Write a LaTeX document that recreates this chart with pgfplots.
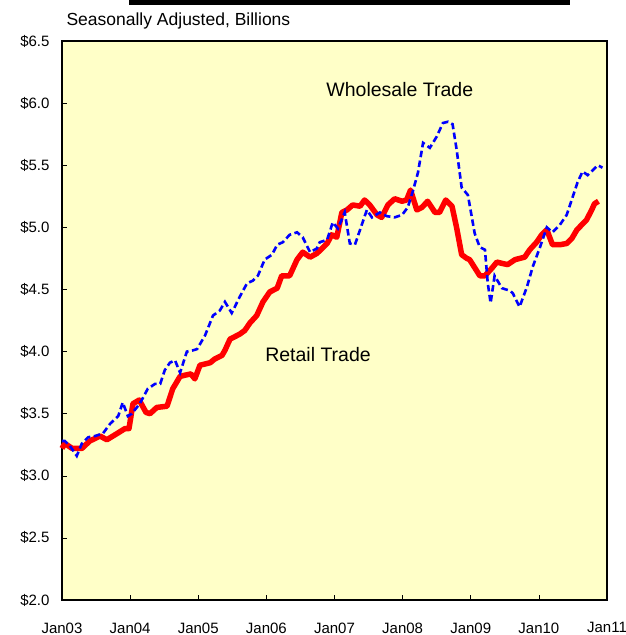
\documentclass[border=0pt]{standalone}
\usepackage{pgfplots}
\pgfplotsset{compat=1.18}
\usepackage{fontspec}
\setmainfont{Liberation Sans}
\definecolor{bgyellow}{RGB}{255,255,200}
\begin{document}
\begin{tikzpicture}
\useasboundingbox (-62pt,-35pt) rectangle (564pt,600pt);
\begin{axis}[
  scale only axis, width=545pt, height=559pt,
  xmin=0, xmax=96, ymin=2, ymax=6.5,
  axis background/.style={fill=bgyellow},
  axis line style={line width=1.6pt},
  clip=false,
  xtick={0,12,24,36,48,60,72,84,96},
  xticklabels={Jan03,Jan04,Jan05,Jan06,Jan07,Jan08,Jan09,Jan10,Jan11},
  ytick={2,2.5,3,3.5,4,4.5,5,5.5,6,6.5},
  yticklabels={\$2.0,\$2.5,\$3.0,\$3.5,\$4.0,\$4.5,\$5.0,\$5.5,\$6.0,\$6.5},
  /pgf/number format/assume math mode=true,
  tick style={black, line width=0.5pt},
  major tick length=5pt,
  tick align=inside,
  xtick pos=bottom, ytick pos=left,
  ticklabel style={font=\fontsize{15}{18}\selectfont},
  xticklabel style={yshift=-19pt},
  yticklabel style={xshift=-9pt},
]
% Retail Trade
\addplot[red, line width=5.5pt, line join=round] coordinates {
(0,3.22) (0.5,3.26) (1.8,3.22) (3.5,3.22) (4.9,3.28) (6.7,3.32) (7.9,3.29) (9.7,3.34) (11.1,3.38) (11.8,3.38)
(12.5,3.58) (13.6,3.61) (14.8,3.51) (15.5,3.50) (16.7,3.55) (18.5,3.56) (19.5,3.70) (20.8,3.80) (21.7,3.81) (22.7,3.82) (23.4,3.78)
(24.3,3.89) (26.1,3.91) (26.9,3.94) (28.2,3.97) (28.7,4.01) (29.6,4.10) (31.3,4.14) (32.2,4.17) (33.1,4.23) (34.3,4.29) (35.4,4.40)
(36.6,4.48) (37.9,4.51) (38.7,4.61) (40.1,4.61) (40.7,4.67) (41.4,4.74) (42.4,4.80) (43.7,4.76) (44.9,4.79) (45.8,4.83) (46.7,4.87) (47.5,4.94)
(48.4,4.92) (49.3,5.12) (50.2,5.14) (51.2,5.18) (52.5,5.17) (53.3,5.22) (54.2,5.18) (55.5,5.10) (56.3,5.08) (57.4,5.18) (58.6,5.23) (59.9,5.21)
(60.7,5.22) (61.4,5.30) (62.5,5.14) (63.4,5.16) (64.4,5.21) (65.7,5.12) (66.5,5.12) (67.6,5.22) (68.7,5.17) (69.5,5.00) (70.4,4.78) (71.3,4.75)
(71.8,4.74) (73.6,4.61) (74.5,4.61) (75.7,4.67) (76.6,4.72) (77.5,4.71) (78.5,4.70) (79.8,4.74) (81.5,4.76) (82.4,4.82) (83.6,4.88)
(84.5,4.94) (85.4,4.98) (86.4,4.86) (87.7,4.86) (88.9,4.87) (89.8,4.91) (90.7,4.98) (92.4,5.06) (93.3,5.14) (93.8,5.19) (94.5,5.21)
};
% Wholesale Trade
\addplot[blue, line width=2.6pt, dash pattern=on 6.5pt off 3.5pt] coordinates {
(0,3.28) (0.5,3.28) (1.4,3.24) (2.6,3.16) (3.5,3.26) (4.6,3.31) (5.8,3.32) (7.2,3.34) (8.5,3.42) (9.9,3.48) (10.7,3.59) (11.6,3.48)
(12.3,3.50) (13.7,3.58) (15.1,3.70) (16.4,3.74) (17.3,3.74) (18.1,3.85) (19.0,3.91) (19.9,3.93) (20.8,3.83) (22.0,4.00) (23.1,4.01) (23.8,4.02)
(25.2,4.13) (26.6,4.29) (27.8,4.33) (28.7,4.40) (29.9,4.31) (31.3,4.44) (32.6,4.55) (33.6,4.57) (34.5,4.61) (35.7,4.74)
(37.0,4.78) (37.9,4.86) (38.9,4.88) (40.1,4.94) (41.4,4.96) (42.4,4.92) (43.7,4.80) (44.9,4.83) (45.4,4.88) (46.7,4.90) (47.7,5.04)
(48.6,4.99) (49.8,5.12) (50.7,4.87) (51.6,4.86) (52.8,5.02) (53.7,5.14) (54.6,5.08) (56.0,5.12) (57.2,5.09) (58.6,5.08) (59.9,5.10)
(60.9,5.16) (61.8,5.29) (62.7,5.44) (63.6,5.68) (64.8,5.64) (66.0,5.73) (67.1,5.84) (68.0,5.85) (68.8,5.83) (69.5,5.63) (70.4,5.32) (71.5,5.26)
(72.7,4.95) (73.6,4.84) (74.5,4.82) (75.0,4.55) (75.5,4.39) (76.2,4.61) (77.5,4.51) (78.9,4.49) (79.4,4.47) (80.6,4.36) (81.9,4.52) (82.9,4.68)
(84.2,4.84) (85.4,5.00) (86.4,4.96) (87.7,5.02) (88.9,5.10) (90.0,5.25) (90.8,5.36) (91.7,5.45) (92.6,5.42) (93.5,5.46) (94.4,5.50) (95.2,5.48)
};
\node[font=\fontsize{19.5}{22}\selectfont] at (axis cs:59.5,6.11) {Wholesale Trade};
\node[font=\fontsize{19.5}{22}\selectfont] at (axis cs:45.1,3.98) {Retail Trade};
\node[anchor=west, font=\fontsize{17.5}{20}\selectfont] at ([shift={(1pt,20pt)}]rel axis cs:0,1) {Seasonally Adjusted, Billions};
\fill[black] ([shift={(67pt,36pt)}]rel axis cs:0,1) rectangle ([shift={(508pt,41pt)}]rel axis cs:0,1);
\end{axis}
\end{tikzpicture}
\end{document}
